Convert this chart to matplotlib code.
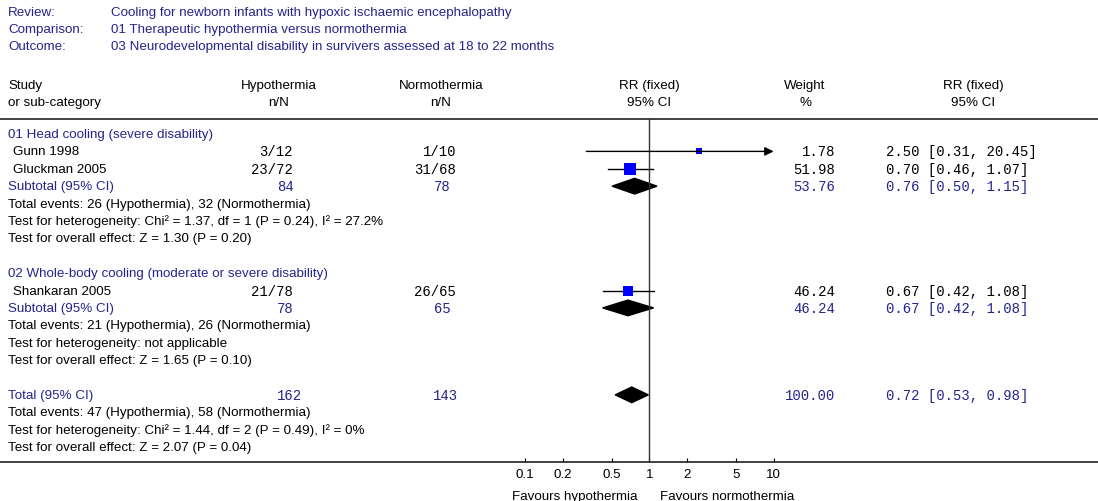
import numpy as np
import matplotlib.pyplot as plt
from matplotlib.patches import Polygon

# -*- data

review = "Cooling for newborn infants with hypoxic ischaemic encephalopathy"
comparison = "01 Therapeutic hypothermia versus normothermia"
outcome = "03 Neurodevelopmental disability in survivers assessed at 18 to 22 months"

groups = ["01 Head cooling (severe disability)",
          "02 Whole-body cooling (moderate or severe disability)"]
studies = ["Gunn 1998", "Gluckman 2005", "Shankaran 2005"]
study_group = [0, 0, 1]
hyp_nN = ["3/12", "23/72", "21/78"]
norm_nN = ["1/10", "31/68", "26/65"]
rr = [2.50, 0.70, 0.67]
rr_lo = [0.31, 0.46, 0.42]
rr_hi = [20.45, 1.07, 1.08]
weight = [1.78, 51.98, 46.24]

sub_hyp = [84, 78]
sub_norm = [78, 65]
sub_weight = [53.76, 46.24]
sub_rr = [0.76, 0.67]
sub_lo = [0.50, 0.42]
sub_hi = [1.15, 1.08]
sub_events = ["Total events: 26 (Hypothermia), 32 (Normothermia)",
              "Total events: 21 (Hypothermia), 26 (Normothermia)"]
sub_het = ["Test for heterogeneity: Chi\u00b2 = 1.37, df = 1 (P = 0.24), I\u00b2 = 27.2%",
           "Test for heterogeneity: not applicable"]
sub_z = ["Test for overall effect: Z = 1.30 (P = 0.20)",
         "Test for overall effect: Z = 1.65 (P = 0.10)"]

tot_hyp, tot_norm, tot_weight = 162, 143, 100.00
tot_rr, tot_lo, tot_hi = 0.72, 0.53, 0.98
tot_lines = ["Total events: 47 (Hypothermia), 58 (Normothermia)",
             "Test for heterogeneity: Chi\u00b2 = 1.44, df = 2 (P = 0.49), I\u00b2 = 0%",
             "Test for overall effect: Z = 2.07 (P = 0.04)"]

ticks = [0.1, 0.2, 0.5, 1, 2, 5, 10]

# -*- layout (pixels)

W, H = 1098, 502
ROW0, DY = 135.0, 17.39       # y of first row, row spacing
TOP, BOT = 120.0, 463.3       # horizontal rules
X_LO, X_HI = 525.3, 773.6     # pixel x of 0.1 and 10

BLUE = "#24248c"
SANS = "Liberation Sans"
MONO = "Liberation Mono"
FS, FM = 9.6, 10.0

def py(r):
    return ROW0 + DY * r

fig = plt.figure(figsize=(W / 100, H / 100), dpi=100)
bg = fig.add_axes([0, 0, 1, 1])
bg.set_xlim(0, W)
bg.set_ylim(H, 0)
bg.axis("off")

ax = fig.add_axes([X_LO / W, (H - BOT) / H, (X_HI - X_LO) / W, (BOT - TOP) / H])
ax.set_xscale("log")
ax.set_xlim(0.1, 10)
ax.set_ylim((BOT - ROW0) / DY, (TOP - ROW0) / DY)
ax.patch.set_alpha(0)
for s in ax.spines.values():
    s.set_visible(False)
ax.set_yticks([])
ax.set_xticks(ticks)
ax.set_xticklabels([f"{t:g}" for t in ticks], fontsize=FS, family=SANS)
ax.minorticks_off()
ax.tick_params(axis="x", direction="in", length=3, width=0.8, pad=4)
ax.axvline(1, color="#333333", lw=1)

def txt(x, r, s, color="black", ha="left", mono=False):
    bg.text(x, py(r), s, color=color, ha=ha, va="center",
            family=MONO if mono else SANS, fontsize=FM if mono else FS)

# -*- header
for i, (k, v) in enumerate([("Review:", review), ("Comparison:", comparison),
                            ("Outcome:", outcome)]):
    bg.text(8, 13 + 17 * i, k, color=BLUE, va="center", family=SANS, fontsize=FS)
    bg.text(111, 13 + 17 * i, v, color=BLUE, va="center", family=SANS, fontsize=FS)

for y, cols in [(86, ["Study", "Hypothermia", "Normothermia", "RR (fixed)", "Weight", "RR (fixed)"]),
                (103, ["or sub-category", "n/N", "n/N", "95% CI", "%", "95% CI"])]:
    bg.text(8, y, cols[0], va="center", family=SANS, fontsize=FS)
    for x, s in zip([279, 441, 649, 805, 973], cols[1:]):
        bg.text(x, y, s, ha="center", va="center", family=SANS, fontsize=FS)

bg.plot([0, W], [TOP, TOP], color="#333333", lw=1.3)
bg.plot([0, W], [BOT, BOT], color="#333333", lw=1.3)

# -*- rows
def diamond(r, est, lo, hi):
    h = 0.45
    ax.add_patch(Polygon([(lo, r), (est, r - h), (hi, r), (est, r + h)],
                         closed=True, color="black", clip_on=False))

r = 0
for g in range(len(groups)):
    txt(8, r, groups[g], color=BLUE)
    r += 1
    for i in range(len(studies)):
        if study_group[i] != g:
            continue
        txt(13, r, studies[i])
        txt(293, r, hyp_nN[i], ha="right", mono=True)
        txt(456, r, norm_nN[i], ha="right", mono=True)
        txt(835, r, f"{weight[i]:.2f}", ha="right", mono=True)
        txt(886, r, f"{rr[i]:.2f} [{rr_lo[i]:.2f}, {rr_hi[i]:.2f}]", mono=True)
        if rr_hi[i] > 10:
            ax.annotate("", xy=(10, r), xytext=(rr_lo[i], r), annotation_clip=False,
                        arrowprops=dict(arrowstyle="-|>", color="black", lw=1,
                                        mutation_scale=13, shrinkA=0, shrinkB=0))
        else:
            ax.plot([rr_lo[i], rr_hi[i]], [r, r], color="black", lw=1, clip_on=False)
        side = max(6.0, 1.55 * np.sqrt(weight[i])) * 0.72
        ax.plot(rr[i], r, "s", color="#0000ff", ms=side, mew=0, clip_on=False)
        r += 1
    txt(8, r, "Subtotal (95% CI)", color=BLUE)
    txt(277, r, f"{sub_hyp[g]}", color=BLUE, mono=True)
    txt(434, r, f"{sub_norm[g]}", color=BLUE, mono=True)
    txt(835, r, f"{sub_weight[g]:.2f}", ha="right", color=BLUE, mono=True)
    txt(886, r, f"{sub_rr[g]:.2f} [{sub_lo[g]:.2f}, {sub_hi[g]:.2f}]", color=BLUE, mono=True)
    diamond(r, sub_rr[g], sub_lo[g], sub_hi[g])
    txt(8, r + 1, sub_events[g])
    txt(8, r + 2, sub_het[g])
    txt(8, r + 3, sub_z[g])
    r += 5

txt(8, r, "Total (95% CI)", color=BLUE)
txt(277, r, f"{tot_hyp}", color=BLUE, mono=True)
txt(433, r, f"{tot_norm}", color=BLUE, mono=True)
txt(835, r, f"{tot_weight:.2f}", ha="right", color=BLUE, mono=True)
txt(886, r, f"{tot_rr:.2f} [{tot_lo:.2f}, {tot_hi:.2f}]", color=BLUE, mono=True)
diamond(r, tot_rr, tot_lo, tot_hi)
for k, s in enumerate(tot_lines):
    txt(8, r + 1 + k, s)

bg.text(638, 497, "Favours hypothermia", ha="right", va="center", family=SANS, fontsize=FS)
bg.text(660, 497, "Favours normothermia", ha="left", va="center", family=SANS, fontsize=FS)

fig.savefig("out.png", dpi=100)
